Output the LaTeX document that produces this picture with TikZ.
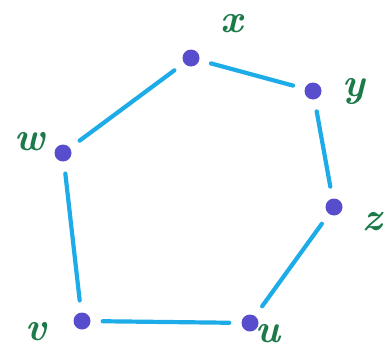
\documentclass[tikz,border=0pt]{standalone}
\usepackage{amsmath,amssymb}
\usepackage{tikz}
\usetikzlibrary{positioning,calc}
\definecolor{edgecyan}{RGB}{30,172,232}
\definecolor{vertblue}{RGB}{88,78,205}
\definecolor{labgreen}{RGB}{28,122,72}

\begin{document}
\begin{tikzpicture}[x=1pt, y=-1pt,
  vert/.style={circle, fill=vertblue, inner sep=0pt, minimum size=17pt},
  lab/.style={text=labgreen, font=\fontsize{40}{40}\selectfont\bfseries\itshape, inner sep=0pt},
  edge/.style={edgecyan, line width=4.2pt, line cap=round, shorten >=12pt, shorten <=12pt}]
\useasboundingbox (0,0) rectangle (391,356);
\node[vert] (x) at (191,58) {};
\node[vert] (y) at (313,91) {};
\node[vert] (z) at (334,207) {};
\node[vert] (u) at (250,323) {};
\node[vert] (v) at (82,321) {};
\node[vert] (w) at (63,153) {};

\node[lab] (lx) at (232,24) {x};
\node[lab] (ly) at (354,91) {y};
\node[lab] (lz) at (372,222) {z};
\node[lab] (lu) at (268,334) {u};
\node[lab] (lv) at (36,332) {v};
\node[lab] (lw) at (30,142) {w};

\foreach \a/\b in {x/y, y/z, z/u, u/v, v/w, w/x}
  \draw[edge] (\a) -- (\b);
\end{tikzpicture}
\end{document}
